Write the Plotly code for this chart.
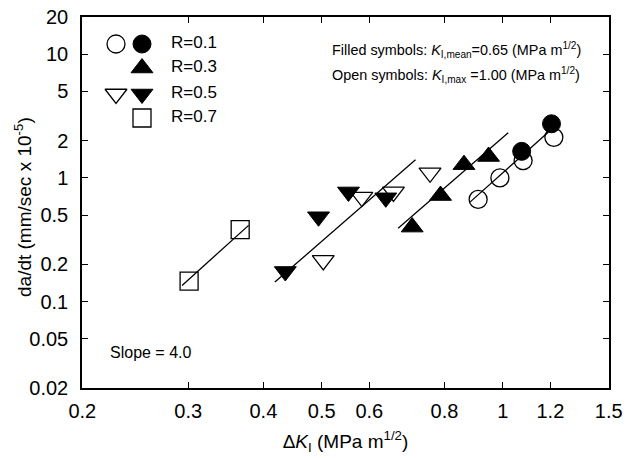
import plotly.graph_objects as go

# Crack growth rate da/dt (mm/sec x 10^-5) against stress intensity range ΔK_I (MPa m^1/2)
r01_open_dk = [0.910, 0.989, 1.081, 1.216]
r01_open_rate = [0.67, 1.00, 1.38, 2.13]
r01_filled_dk = [1.075, 1.205]
r01_filled_rate = [1.64, 2.74]

r03_filled_dk = [0.707, 0.788, 0.862, 0.947]
r03_filled_rate = [0.40, 0.72, 1.28, 1.49]

r05_filled_dk = [0.435, 0.494, 0.554, 0.639]
r05_filled_rate = [0.175, 0.485, 0.77, 0.69]
r05_open_dk = [0.503, 0.583, 0.658, 0.757]
r05_open_rate = [0.215, 0.70, 0.77, 1.10]

r07_open_dk = [0.301, 0.366]
r07_open_rate = [0.146, 0.381]

# Fitted power-law lines, given by their end points
fit_r01_dk = [0.882, 1.19]
fit_r01_rate = [0.637, 2.342]
fit_r03_dk = [0.670, 1.021]
fit_r03_rate = [0.392, 2.316]
fit_r05_dk = [0.418, 0.716]
fit_r05_rate = [0.1436, 1.402]
fit_r07_dk = [0.293, 0.378]
fit_r07_rate = [0.135, 0.413]

x_ticks = [0.2, 0.3, 0.4, 0.5, 0.6, 0.8, 1, 1.2, 1.5]
y_ticks = [0.02, 0.05, 0.1, 0.2, 0.5, 1, 2, 5, 10, 20]

legend_labels = ["R=0.1", "R=0.3", "R=0.5", "R=0.7"]

FONT = "Liberation Sans, Arial, sans-serif"
W, H = 627, 458
ML, MR, MT, MB = 82, 18, 17, 70

fig = go.Figure()

OPEN = dict(color="white", line=dict(color="black", width=1.3))
FILLED = dict(color="black", line=dict(color="black", width=1))
CIRC, TRI, SQ = 18, 19, 18


def pts(x, y, symbol, style, size):
    fig.add_trace(go.Scatter(
        x=x, y=y, mode="markers", showlegend=False, hoverinfo="skip",
        marker=dict(symbol=symbol, size=size, **style)))


def fit(x, y):
    fig.add_trace(go.Scatter(
        x=x, y=y, mode="lines", showlegend=False, hoverinfo="skip",
        line=dict(color="black", width=1.3)))


# open symbols first, fitted lines over them, filled symbols on top
pts(r01_open_dk, r01_open_rate, "circle", OPEN, CIRC)
pts(r05_open_dk, r05_open_rate, "triangle-down", OPEN, TRI)
pts(r07_open_dk, r07_open_rate, "square", OPEN, SQ)
fit(fit_r01_dk, fit_r01_rate)
fit(fit_r03_dk, fit_r03_rate)
fit(fit_r05_dk, fit_r05_rate)
fit(fit_r07_dk, fit_r07_rate)
pts(r01_filled_dk, r01_filled_rate, "circle", FILLED, CIRC)
pts(r03_filled_dk, r03_filled_rate, "triangle-up", FILLED, TRI)
pts(r05_filled_dk, r05_filled_rate, "triangle-down", FILLED, TRI)

# symbol key in the upper left, drawn on an overlay axis in plot-pixel units
key_rows = [44, 68, 94, 118]
key_open_x, key_filled_x, key_text_x = 34, 60, 89
key_symbols = [("circle", "circle"), (None, "triangle-up"),
               ("triangle-down", "triangle-down"), (None, None)]
key_sizes = {"circle": CIRC, "triangle-up": TRI, "triangle-down": TRI}
for row_y, (open_sym, filled_sym) in zip(key_rows, key_symbols):
    y = row_y - MT
    if open_sym:
        fig.add_trace(go.Scatter(x=[key_open_x], y=[y], xaxis="x2", yaxis="y2",
                                 mode="markers", showlegend=False, hoverinfo="skip",
                                 marker=dict(symbol=open_sym, size=key_sizes[open_sym], **OPEN)))
    if filled_sym:
        fig.add_trace(go.Scatter(x=[key_filled_x], y=[y], xaxis="x2", yaxis="y2",
                                 mode="markers", showlegend=False, hoverinfo="skip",
                                 marker=dict(symbol=filled_sym, size=key_sizes[filled_sym], **FILLED)))
fig.add_trace(go.Scatter(x=[key_filled_x], y=[key_rows[3] - MT], xaxis="x2", yaxis="y2",
                         mode="markers", showlegend=False, hoverinfo="skip",
                         marker=dict(symbol="square", size=SQ, **OPEN)))
for row_y, label in zip(key_rows, legend_labels):
    fig.add_trace(go.Scatter(x=[key_text_x], y=[row_y - MT], xaxis="x2", yaxis="y2",
                             mode="text", text=[label], textposition="middle right",
                             textfont=dict(family=FONT, size=17, color="black"),
                             showlegend=False, hoverinfo="skip"))

pw, ph = W - ML - MR, H - MT - MB

axis_common = dict(
    type="log", showgrid=False, zeroline=False, automargin=False,
    showline=True, linecolor="black", linewidth=1.5, mirror="ticks",
    ticks="inside", ticklen=6, tickwidth=1.3, tickcolor="black",
    tickfont=dict(family=FONT, size=20, color="black"),
    tickmode="array",
)

fig.update_layout(
    width=W, height=H,
    margin=dict(l=ML, r=MR, t=MT, b=MB),
    paper_bgcolor="white", plot_bgcolor="white",
    font=dict(family=FONT, color="black"),
    xaxis=dict(axis_common, range=[-0.69898 - 0.0005, 0.176091 + 0.0005],
               tickvals=x_ticks, ticktext=[f"{v:g}" for v in x_ticks],
               ticklabelstandoff=4,
               title=dict(text="Δ<i>K</i><sub>I</sub> (MPa m<sup>1/2</sup>)",
                          font=dict(family=FONT, size=19), standoff=14)),
    yaxis=dict(axis_common, range=[-1.69897 - 0.0005, 1.30103 + 0.0005],
               tickvals=y_ticks, ticktext=[f"{v:g}" for v in y_ticks],
               ticklabelstandoff=8),
    xaxis2=dict(overlaying="x", range=[0, pw], visible=False, automargin=False),
    yaxis2=dict(overlaying="y", range=[ph, 0], visible=False, automargin=False),
)

# y-axis title placed as a rotated annotation
fig.add_annotation(xref="paper", yref="paper", x=(23 - ML) / pw, y=1 - (207 - MT) / ph,
                   xanchor="center", yanchor="middle", showarrow=False, textangle=-90,
                   text="da/dt (mm/sec x 10<sup>-5</sup>)",
                   font=dict(family=FONT, size=19, color="black"))
fig.add_annotation(xref="paper", yref="paper", x=(330 - ML) / pw, y=1 - (50 - MT) / ph,
                   xanchor="left", yanchor="middle", showarrow=False,
                   text="Filled symbols: <i>K</i><sub>I,mean</sub>=0.65 (MPa m<sup>1/2</sup>)",
                   font=dict(family=FONT, size=14.4, color="black"))
fig.add_annotation(xref="paper", yref="paper", x=(330 - ML) / pw, y=1 - (75 - MT) / ph,
                   xanchor="left", yanchor="middle", showarrow=False,
                   text="Open symbols: <i>K</i><sub>I,max</sub> =1.00 (MPa m<sup>1/2</sup>)",
                   font=dict(family=FONT, size=14.4, color="black"))
fig.add_annotation(xref="paper", yref="paper", x=(108 - ML) / pw, y=1 - (352 - MT) / ph,
                   xanchor="left", yanchor="middle", showarrow=False,
                   text="Slope = 4.0",
                   font=dict(family=FONT, size=16, color="black"))

fig.write_html("out.html")
